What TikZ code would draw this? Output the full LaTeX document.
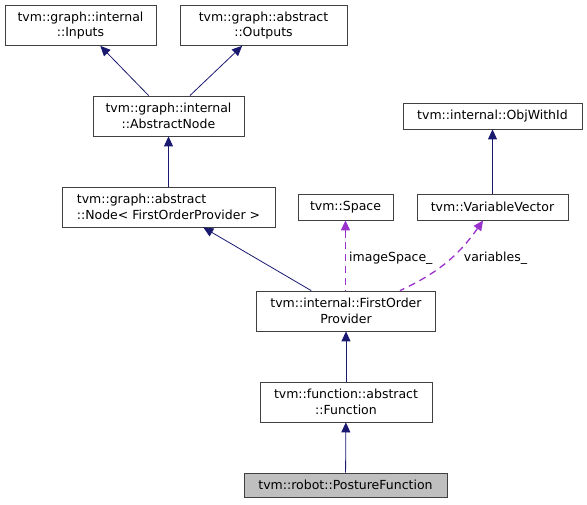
\documentclass[tikz,border=0pt]{standalone}
\usepackage{fontspec}
\setmainfont{DejaVu Sans}
\usetikzlibrary{arrows.meta}
\definecolor{midnight}{HTML}{191970}
\definecolor{orchid}{HTML}{9A32CD}
\definecolor{boxline}{HTML}{404040}

\begin{document}
\begin{tikzpicture}[x=1pt,y=1pt,>={Triangle[length=10pt,width=9pt]},
  cls/.style={draw=boxline,line width=0.8pt,minimum height=40pt,inner sep=0pt,
    align=center,font=\fontsize{12.5}{15.7}\selectfont},
  inherit/.style={<-,draw=midnight,line width=0.8pt},
  usage/.style={<-,draw=orchid,line width=1.3pt,dash pattern=on 7pt off 5pt},
  lbl/.style={inner sep=0pt,font=\fontsize{12.5}{15.7}\selectfont}]
\useasboundingbox (0,0) rectangle (587,504);
% graph classes
\node[cls,minimum width=151pt] (inputs) at (80.5,478.5) {tvm::graph::internal\\::Inputs};
\node[cls,minimum width=167pt] (outputs) at (263.5,478.5) {tvm::graph::abstract\\::Outputs};
\node[cls,minimum width=151pt] (absnode) at (168.5,388) {tvm::graph::internal\\::AbstractNode};
\node[cls,minimum width=213pt,align=left] (nodefop) at (168.5,297) {tvm::graph::abstract\\::Node< FirstOrderProvider >};
% members
\node[cls,minimum width=179pt,minimum height=26pt] (objid) at (492.5,388) {tvm::internal::ObjWithId};
\node[cls,minimum width=95pt,minimum height=26pt] (imgspace) at (345.5,297) {tvm::Space};
\node[cls,minimum width=151pt,minimum height=26pt] (varvec) at (492.5,297) {tvm::VariableVector};
% function chain
\node[cls,minimum width=179pt] (fop) at (346,193) {tvm::internal::FirstOrder\\Provider};
\node[cls,minimum width=172pt] (function) at (346,102) {tvm::function::abstract\\::Function};
\node[cls,minimum width=203pt,minimum height=24pt,fill=black!25] (posture) at (345.5,19) {tvm::robot::PostureFunction};
% inheritance
\draw[inherit] (inputs) -- (absnode);
\draw[inherit] (outputs) -- (absnode);
\draw[inherit] (absnode) -- (nodefop);
\draw[inherit] (nodefop) -- (fop);
\draw[inherit] (objid) -- (varvec);
\draw[inherit] (fop) -- (function);
\draw[inherit] (function) -- (posture);
% usage
\draw[usage] (imgspace) to[out=270,in=90] (fop.north -| imgspace);
\draw[usage] (varvec) to[out=235,in=25] ([xshift=54pt]fop.north);
\node[lbl,anchor=west] (lspace) at (349,246) {imageSpace\_};
\node[lbl] (lvars) at (495.5,246) {variables\_};
\end{tikzpicture}
\end{document}
